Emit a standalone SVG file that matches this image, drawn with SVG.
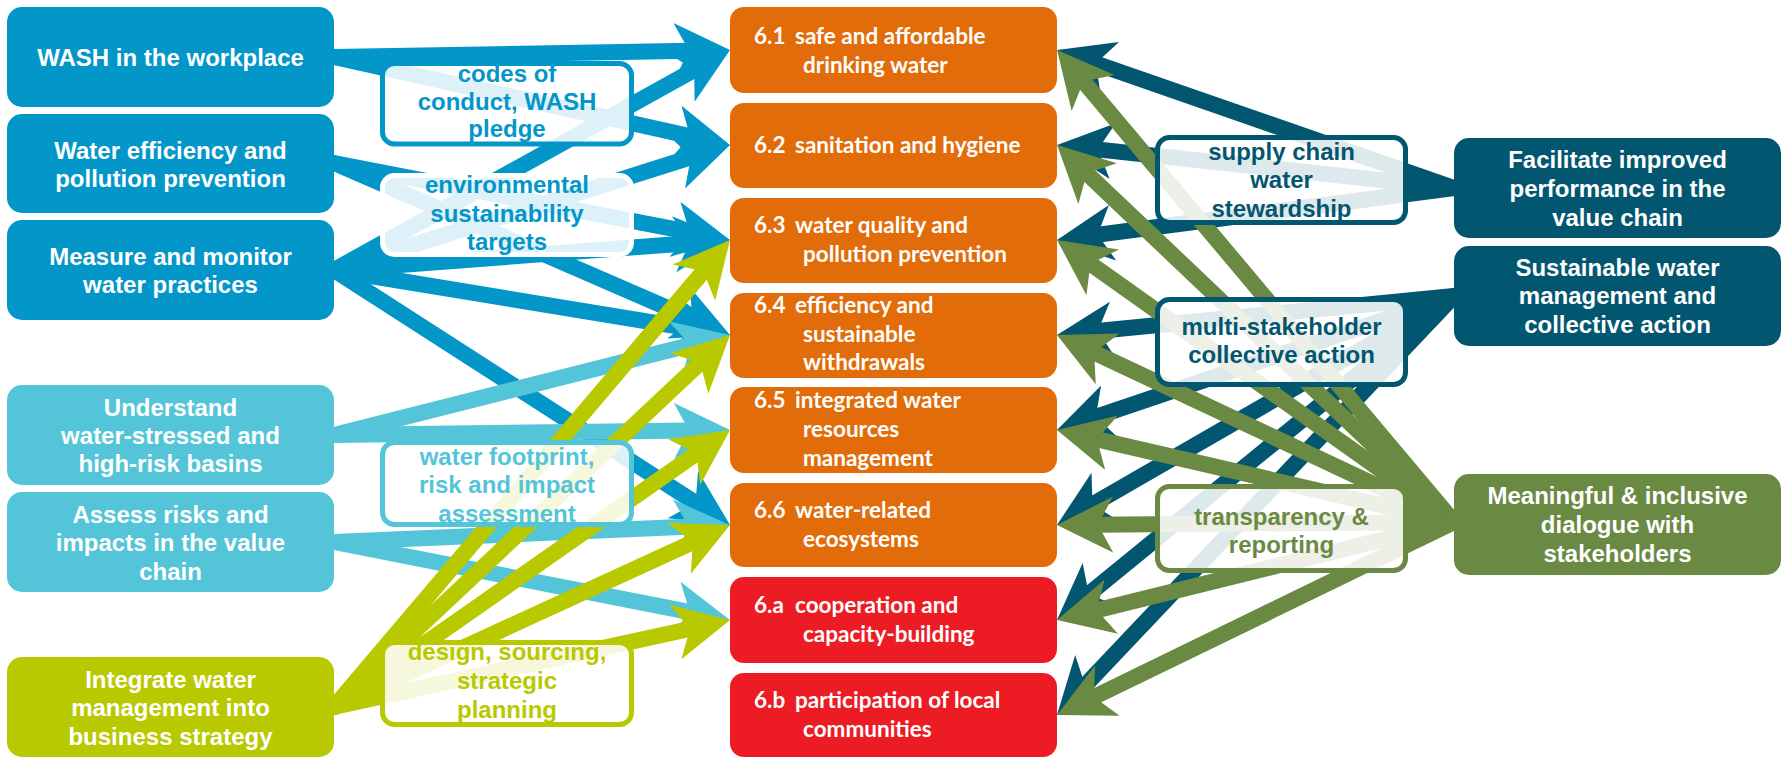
<svg xmlns="http://www.w3.org/2000/svg" width="1787" height="757" viewBox="0 0 1787 757">
<style>
.t{font-family:"Liberation Sans",Arial,sans-serif;font-weight:bold;font-size:24px;text-anchor:middle}
.w{fill:#ffffff}
.ot{font-family:Lato,"Open Sans",sans-serif;font-weight:bold;font-size:22.5px;fill:#ffffff}
.c{fill:none;stroke-width:16;stroke-linecap:round}
.blue{stroke:#0396C9;marker-end:url(#ah-blue)}
.lblue{stroke:#54C5D8;marker-end:url(#ah-lblue)}
.ygr{stroke:#B8C900;marker-end:url(#ah-ygr)}
.teal{stroke:#03566F;marker-end:url(#ah-teal)}
.olive{stroke:#6A8942;marker-end:url(#ah-olive)}
.lab{fill:#ffffff;fill-opacity:0.87;stroke-width:5}
</style>
<defs>
<marker id="ah-blue" viewBox="0 0 56 56" markerWidth="56" markerHeight="56" refX="18" refY="28" orient="auto" markerUnits="userSpaceOnUse"><path d="M56,28 L0,0 L15,28 L0,56 Z" fill="#0396C9"/></marker>
<marker id="ah-lblue" viewBox="0 0 56 56" markerWidth="56" markerHeight="56" refX="18" refY="28" orient="auto" markerUnits="userSpaceOnUse"><path d="M56,28 L0,0 L15,28 L0,56 Z" fill="#54C5D8"/></marker>
<marker id="ah-ygr" viewBox="0 0 56 56" markerWidth="56" markerHeight="56" refX="18" refY="28" orient="auto" markerUnits="userSpaceOnUse"><path d="M56,28 L0,0 L15,28 L0,56 Z" fill="#B8C900"/></marker>
<marker id="ah-teal" viewBox="0 0 56 56" markerWidth="56" markerHeight="56" refX="18" refY="28" orient="auto" markerUnits="userSpaceOnUse"><path d="M56,28 L0,0 L15,28 L0,56 Z" fill="#03566F"/></marker>
<marker id="ah-olive" viewBox="0 0 56 56" markerWidth="56" markerHeight="56" refX="18" refY="28" orient="auto" markerUnits="userSpaceOnUse"><path d="M56,28 L0,0 L15,28 L0,56 Z" fill="#6A8942"/></marker>
</defs>
<g id="connectors">
<path class="c blue" d="M334,57 L692.0,50.7"/>
<path class="c blue" d="M334,57 L692.9,136.8"/>
<path class="c blue" d="M334,270 L696.8,68.5"/>
<path class="c blue" d="M334,270 L693.8,156.4"/>
<path class="c blue" d="M334,163 L692.7,232.7"/>
<path class="c blue" d="M334,163 L695.1,319.9"/>
<path class="c blue" d="M334,270 L692.1,242.9"/>
<path class="c blue" d="M334,270 L692.5,328.8"/>
<path class="c blue" d="M334,270 L698.05,504.4"/>
<path class="c lblue" d="M334,435 L693.2,344.3"/>
<path class="c lblue" d="M334,435 L692.0,430.5"/>
<path class="c lblue" d="M334,542 L692.0,526.6"/>
<path class="c lblue" d="M334,542 L692.7,612.7"/>
<path class="c ygr" d="M334,707 L705.4,269.0"/>
<path class="c ygr" d="M334,707 L702.3,361.0"/>
<path class="c ygr" d="M334,707 L698.9,451.8"/>
<path class="c ygr" d="M334,707 L695.5,540.9"/>
<path class="c ygr" d="M334,707 L692.9,628.2"/>
<path class="c teal" d="M1454,188 L1092.9,62.5"/>
<path class="c teal" d="M1454,188 L1094.8,149.1"/>
<path class="c teal" d="M1454,188 L1094.7,235.1"/>
<path class="c teal" d="M1454,296 L1094.8,331.3"/>
<path class="c teal" d="M1454,296 L1093.0,417.8"/>
<path class="c teal" d="M1454,296 L1089.9,506.0"/>
<path class="c teal" d="M1454,296 L1086.4,596.0"/>
<path class="c teal" d="M1454,296 L1083.1,687.4"/>
<path class="c olive" d="M1454,522 L1081.5,79.1"/>
<path class="c olive" d="M1454,522 L1084.6,171.2"/>
<path class="c olive" d="M1454,522 L1088.0,262.0"/>
<path class="c olive" d="M1454,522 L1091.4,351.2"/>
<path class="c olive" d="M1454,522 L1094.0,438.6"/>
<path class="c olive" d="M1454,522 L1095.0,524.7"/>
<path class="c olive" d="M1454,522 L1093.9,610.9"/>
<path class="c olive" d="M1454,522 L1091.2,698.4"/>
</g>
<g id="wash"><rect x="7" y="7" width="327" height="100" rx="15" fill="#0396C9"/><text class="t w" x="170.5" y="66">WASH in the workplace</text></g>
<g id="water-efficiency"><rect x="7" y="114" width="327" height="99" rx="15" fill="#0396C9"/><text class="t w" x="170.5" y="159">Water efficiency and</text><text class="t w" x="170.5" y="187">pollution prevention</text></g>
<g id="measure"><rect x="7" y="220" width="327" height="100" rx="15" fill="#0396C9"/><text class="t w" x="170.5" y="265">Measure and monitor</text><text class="t w" x="170.5" y="293">water practices</text></g>
<g id="understand"><rect x="7" y="385" width="327" height="100" rx="15" fill="#54C5D8"/><text class="t w" x="170.5" y="416">Understand</text><text class="t w" x="170.5" y="444">water-stressed and</text><text class="t w" x="170.5" y="472">high-risk basins</text></g>
<g id="assess"><rect x="7" y="492" width="327" height="100" rx="15" fill="#54C5D8"/><text class="t w" x="170.5" y="523">Assess risks and</text><text class="t w" x="170.5" y="551">impacts in the value</text><text class="t w" x="170.5" y="580">chain</text></g>
<g id="integrate"><rect x="7" y="657" width="327" height="100" rx="15" fill="#B8C900"/><text class="t w" x="170.5" y="688">Integrate water</text><text class="t w" x="170.5" y="716">management into</text><text class="t w" x="170.5" y="745">business strategy</text></g>
<g id="t61"><rect x="730" y="7" width="327" height="86" rx="14" fill="#E36C0A"/><text class="ot" x="754" y="44">6.1</text><text class="ot" x="795" y="44">safe and affordable</text><text class="ot" x="803" y="73">drinking water</text></g>
<g id="t62"><rect x="730" y="103" width="327" height="85" rx="14" fill="#E36C0A"/><text class="ot" x="754" y="153">6.2</text><text class="ot" x="795" y="153">sanitation and hygiene</text></g>
<g id="t63"><rect x="730" y="198" width="327" height="85" rx="14" fill="#E36C0A"/><text class="ot" x="754" y="233">6.3</text><text class="ot" x="795" y="233">water quality and</text><text class="ot" x="803" y="262">pollution prevention</text></g>
<g id="t64"><rect x="730" y="293" width="327" height="85" rx="14" fill="#E36C0A"/><text class="ot" x="754" y="313">6.4</text><text class="ot" x="795" y="313">efficiency and</text><text class="ot" x="803" y="342">sustainable</text><text class="ot" x="803" y="370">withdrawals</text></g>
<g id="t65"><rect x="730" y="387" width="327" height="86" rx="14" fill="#E36C0A"/><text class="ot" x="754" y="408">6.5</text><text class="ot" x="795" y="408">integrated water</text><text class="ot" x="803" y="437">resources</text><text class="ot" x="803" y="466">management</text></g>
<g id="t66"><rect x="730" y="483" width="327" height="84" rx="14" fill="#E36C0A"/><text class="ot" x="754" y="518">6.6</text><text class="ot" x="795" y="518">water-related</text><text class="ot" x="803" y="547">ecosystems</text></g>
<g id="t6a"><rect x="730" y="577" width="327" height="86" rx="14" fill="#ED1C24"/><text class="ot" x="754" y="613">6.a</text><text class="ot" x="795" y="613">cooperation and</text><text class="ot" x="803" y="642">capacity-building</text></g>
<g id="t6b"><rect x="730" y="673" width="327" height="84" rx="14" fill="#ED1C24"/><text class="ot" x="754" y="708">6.b</text><text class="ot" x="795" y="708">participation of local</text><text class="ot" x="803" y="737">communities</text></g>
<g id="facilitate"><rect x="1454" y="138" width="327" height="100" rx="15" fill="#03566F"/><text class="t w" x="1617.5" y="168">Facilitate improved</text><text class="t w" x="1617.5" y="197">performance in the</text><text class="t w" x="1617.5" y="226">value chain</text></g>
<g id="sustainable"><rect x="1454" y="246" width="327" height="100" rx="15" fill="#03566F"/><text class="t w" x="1617.5" y="276">Sustainable water</text><text class="t w" x="1617.5" y="304">management and</text><text class="t w" x="1617.5" y="333">collective action</text></g>
<g id="meaningful"><rect x="1454" y="474" width="327" height="101" rx="15" fill="#6A8942"/><text class="t w" x="1617.5" y="504">Meaningful &amp; inclusive</text><text class="t w" x="1617.5" y="533">dialogue with</text><text class="t w" x="1617.5" y="562">stakeholders</text></g>
<g id="label-codes"><rect class="lab" x="382.5" y="63.5" width="249" height="80.5" rx="12" stroke="#0396C9"/><text class="t" fill="#0396C9" x="507" y="82">codes of</text><text class="t" fill="#0396C9" x="507" y="110">conduct, WASH</text><text class="t" fill="#0396C9" x="507" y="137">pledge</text></g>
<g id="label-env"><rect class="lab" x="382.5" y="175.5" width="249" height="79" rx="12" stroke="#ffffff"/><text class="t" fill="#0396C9" x="507" y="193">environmental</text><text class="t" fill="#0396C9" x="507" y="222">sustainability</text><text class="t" fill="#0396C9" x="507" y="250">targets</text></g>
<g id="label-footprint"><rect class="lab" x="382.5" y="442.5" width="249" height="82" rx="12" stroke="#54C5D8"/><text class="t" fill="#54C5D8" x="507" y="465">water footprint,</text><text class="t" fill="#54C5D8" x="507" y="493">risk and impact</text><text class="t" fill="#54C5D8" x="507" y="522">assessment</text></g>
<g id="label-design"><rect class="lab" x="382.5" y="642.5" width="249" height="82" rx="12" stroke="#B8C900"/><text class="t" fill="#B8C900" x="507" y="660">design, sourcing,</text><text class="t" fill="#B8C900" x="507" y="689">strategic</text><text class="t" fill="#B8C900" x="507" y="718">planning</text></g>
<g id="label-supply"><rect class="lab" x="1157.5" y="137.5" width="248" height="85" rx="12" stroke="#03566F"/><text class="t" fill="#03566F" x="1281.5" y="160">supply chain</text><text class="t" fill="#03566F" x="1281.5" y="188">water</text><text class="t" fill="#03566F" x="1281.5" y="217">stewardship</text></g>
<g id="label-multi"><rect class="lab" x="1157.5" y="299.5" width="248" height="85" rx="12" stroke="#03566F"/><text class="t" fill="#03566F" x="1281.5" y="335">multi-stakeholder</text><text class="t" fill="#03566F" x="1281.5" y="363">collective action</text></g>
<g id="label-transparency"><rect class="lab" x="1157.5" y="486.5" width="248" height="84" rx="12" stroke="#6A8942"/><text class="t" fill="#6A8942" x="1281.5" y="525">transparency &amp;</text><text class="t" fill="#6A8942" x="1281.5" y="553">reporting</text></g>
</svg>
